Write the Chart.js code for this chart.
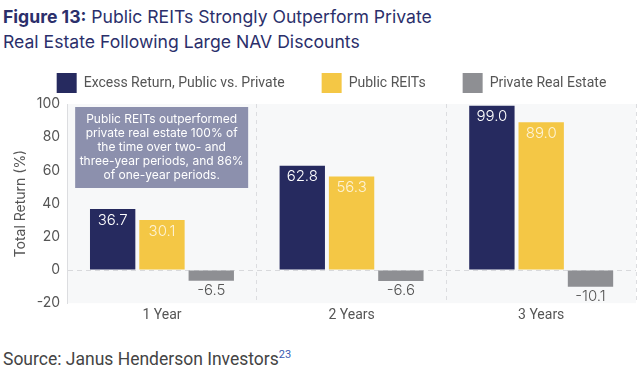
<!DOCTYPE html>
<html><head><meta charset="utf-8">
<script src="https://cdn.jsdelivr.net/npm/chart.js@4/dist/chart.umd.min.js"></script>
<style>
html,body{margin:0;padding:0;background:#fff;width:640px;height:372px;overflow:hidden;}
#title{position:absolute;left:3px;top:4px;font-family:Inter,sans-serif;font-size:17.6px;line-height:25px;color:#2b2f6b;}
#title b{font-weight:700;}
#wrap{position:absolute;left:0;top:34px;width:640px;height:294px;}
#source{position:absolute;left:3px;top:348px;font-family:Roboto,sans-serif;font-size:17.5px;color:#444;}
#source sup{font-size:11px;color:#3a5bb0;}
</style></head><body>
<div id="title"><b>Figure 13:</b> Public REITs Strongly Outperform Private<br>Real Estate Following Large NAV Discounts</div>
<div id="wrap"><canvas id="c"></canvas></div>
<div id="source">Source: Janus Henderson Investors<sup>23</sup></div>
<script>
const categories = ["1 Year", "2 Years", "3 Years"];
const seriesNames = ["Excess Return, Public vs. Private", "Public REITs", "Private Real Estate"];
const excessReturn = [36.7, 62.8, 99.0];
const publicREITs = [30.1, 56.3, 89.0];
const privateRealEstate = [-6.5, -6.6, -10.1];
const yTicks = [-20, 0, 20, 40, 60, 80, 100];
const noteLines = ["Public REITs outperformed", "private real estate 100% of", "the time over two- and", "three-year periods, and 86%", "of one-year periods."];

const colors = ["#262a5f", "#f4c745", "#8e8f93"];
const labelColors = ["#ffffff", "#fdf3d6", "#555555"];

const bgPlugin = {
  id: 'bg',
  afterInit(chart) {
    const lg = chart.legend;
    if (lg) {
      const orig = lg.fit;
      lg.fit = function () { orig.call(this); this.height = 70; };
    }
  },
  afterLayout(chart) {
    const lg = chart.legend;
    if (lg) { lg.left += 8; lg.right += 8; lg.top += 2; lg.bottom += 2; }
  },
  beforeDraw(chart) {
    const {ctx, chartArea: a} = chart;
    ctx.save();
    ctx.fillStyle = '#f7f8f9';
    ctx.fillRect(a.left, a.top, a.right - a.left, a.bottom - a.top);
    ctx.restore();
  }
};
const labelPlugin = {
  id: 'labels',
  afterDatasetsDraw(chart) {
    const {ctx} = chart;
    ctx.save();
    ctx.font = '300 15px Inter, sans-serif';
    ctx.textAlign = 'center';
    chart.data.datasets.forEach((ds, di) => {
      const meta = chart.getDatasetMeta(di);
      meta.data.forEach((bar, i) => {
        const v = ds.data[i];
        const txt = v.toFixed(1);
        ctx.textBaseline = 'middle';
        if (v >= 0) {
          ctx.fillStyle = labelColors[di];
          ctx.fillText(txt, bar.x, bar.y + 11);
        } else {
          ctx.fillStyle = '#555555';
          ctx.fillText(txt, bar.x, bar.y + 10);
        }
      });
    });
    const a = chart.chartArea;
    const bx = a.left + 8, by = a.top + 3, bw = 173, bh = 81;
    ctx.fillStyle = '#8c90ad';
    ctx.fillRect(bx, by, bw, bh);
    ctx.fillStyle = '#ffffff';
    ctx.font = '12px Inter, sans-serif';
    ctx.textBaseline = 'middle';
    noteLines.forEach((l, k) => ctx.fillText(l, bx + bw / 2, by + 12 + k * 14.2));
    ctx.restore();
  }
};

new Chart(document.getElementById('c'), {
  type: 'bar',
  data: {
    labels: categories,
    datasets: [
      {label: seriesNames[0], data: excessReturn, backgroundColor: colors[0]},
      {label: seriesNames[1], data: publicREITs, backgroundColor: colors[1]},
      {label: seriesNames[2], data: privateRealEstate, backgroundColor: colors[2]}
    ]
  },
  options: {
    responsive: true,
    maintainAspectRatio: false,
    animation: false,
    categoryPercentage: 0.78,
    barPercentage: 0.92,
    layout: {padding: {left: 11, right: 4, top: 0, bottom: 0}},
    plugins: {
      tooltip: {enabled: false},
      legend: {
        position: 'top',
        align: 'center',
        labels: {
          boxWidth: 20, boxHeight: 20, padding: 37,
          color: '#555', font: {family: 'Roboto, sans-serif', size: 14}
        }
      }
    },
    scales: {
      x: {
        grid: {
          offset: true,
          color: c => (c.index === 0 || c.index === 3) ? 'rgba(0,0,0,0)' : '#dcdde0',
          drawTicks: false
        },
        border: {display: false, dash: [4, 4]},
        ticks: {color: '#555', font: {family: 'Roboto, sans-serif', size: 14}, padding: 4}
      },
      y: {
        min: -20, max: 100,
        afterBuildTicks: s => { s.ticks = yTicks.map(v => ({value: v})); },
        grid: {
          color: c => c.tick && c.tick.value === 0 ? '#d8d9dc' : 'rgba(0,0,0,0)',
          drawTicks: false
        },
        border: {display: true, color: '#dcdde0', dash: [5, 4]},
        ticks: {color: '#555', font: {family: 'Inter, sans-serif', size: 14}, padding: 7},
        title: {display: true, text: 'Total Return (%)', color: '#555', font: {family: 'Inter, sans-serif', size: 14}, padding: 1}
      }
    }
  },
  plugins: [bgPlugin, labelPlugin]
});
</script>
</body></html>
